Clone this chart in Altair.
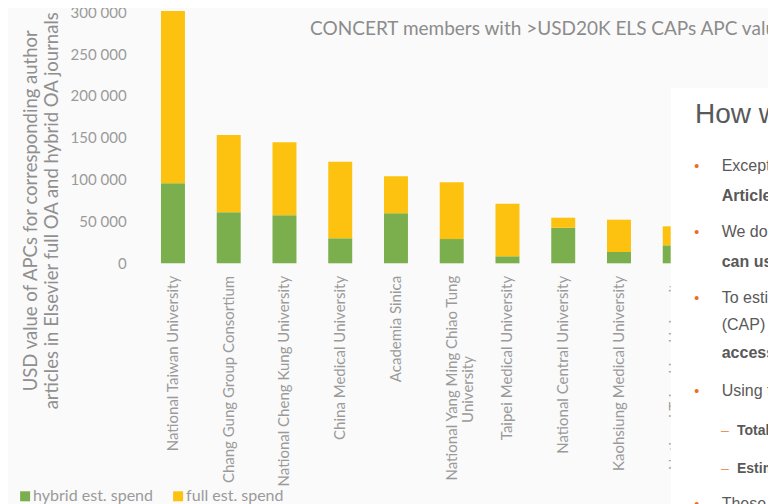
import altair as alt
import pandas as pd

NBSP = "\u00a0"
ZWSP = "\u200b"

UNIVERSITIES = [
    "National Taiwan University",
    "Chang Gung Group Consortium",
    "National Cheng Kung University",
    "China Medical University",
    "Academia Sinica",
    "National Yang Ming Chiao Tung|University" + NBSP * 21 + ZWSP,
    "Taipei Medical University",
    "National Central University",
    "Kaohsiung Medical University",
    "National Tsing Hua University",
]
SERIES = ["hybrid est. spend", "full est. spend"]
HYBRID = [95600, 61000, 57400, 29900, 59800, 29000, 8400, 42500, 13500, 21500]
FULL = [206000, 92300, 87200, 91500, 44200, 67800, 62800, 12000, 38600, 22700]
Y_TICKS = [0, 50000, 100000, 150000, 200000, 250000, 300000]

TITLE = "CONCERT members with >USD20K ELS CAPs APC value"
Y_TITLE = ["USD value of APCs for corresponding author",
           "articles in Elsevier full OA and hybrid OA journals"]

PANEL_HEADING = "How we estimate APC spend"
PANEL_LINES = [
    "Except the Open Access agreements, there is no",
    "Article Processing Charge data",
    "We do not have invoices, but we",
    "can use publication data",
    "To estimate, we use Corresponding Author Publications",
    "(CAP) data for Elsevier hybrid and full open",
    "access journals",
    "Using the APC list prices:",
    "Total cost of APCs",
    "Estimated spend",
    "These totals are estimates",
]

GREEN = "#7BAF4D"
YELLOW = "#FDC20F"
GREY_TXT = "#9a9a9a"
PANEL_TXT = "#595959"
ORANGE = "#F26B1D"

rows = []
for i, u in enumerate(UNIVERSITIES):
    rows.append({"university": u, "series": SERIES[0], "value": HYBRID[i], "ord": 0})
    rows.append({"university": u, "series": SERIES[1], "value": FULL[i], "ord": 1})
df = pd.DataFrame(rows)

bars = alt.Chart(df).mark_bar().encode(
    x=alt.X(
        "university:N",
        sort=UNIVERSITIES,
        title=None,
        scale=alt.Scale(paddingInner=0.57, paddingOuter=0.5),
        axis=alt.Axis(
            labelAngle=270,
            labelExpr="split(datum.label, '|')",
            labelFont="Lato",
            labelFontSize=15,
            labelColor=GREY_TXT,
            labelLineHeight=16,
            labelPadding=12,
            labelLimit=400,
            labelOverlap=False,
            ticks=False,
            domain=False,
        ),
    ),
    y=alt.Y(
        "value:Q",
        stack="zero",
        scale=alt.Scale(domain=[0, 300000], nice=False),
        axis=alt.Axis(
            values=Y_TICKS,
            labelExpr="replace(format(datum.value, ','), ',', ' ')",
            labelFont="Lato",
            labelFontSize=15,
            labelColor=GREY_TXT,
            labelPadding=7,
            ticks=False,
            domain=False,
            grid=False,
            title=Y_TITLE,
            titleFont="Lato",
            titleFontSize=18.5,
            titleFontWeight="normal",
            titleColor="#8f8f8f",
            titleLineHeight=21,
            titleAngle=270,
            titleAlign="center",
            titleBaseline="middle",
            titleX=-103,
            titleY=198,
        ),
    ),
    color=alt.Color(
        "series:N",
        scale=alt.Scale(domain=SERIES, range=[GREEN, YELLOW]),
        legend=alt.Legend(
            title=None,
            orient="none",
            direction="horizontal",
            legendX=-116,
            legendY=476,
            symbolType="square",
            symbolSize=100,
            symbolStrokeWidth=0,
            labelFont="Lato",
            labelFontSize=16,
            labelColor=GREY_TXT,
            labelOffset=0,
            columnPadding=17,
            padding=0,
        ),
    ),
    order=alt.Order("ord:Q", sort="ascending"),
)

one = pd.DataFrame({"k": [0]})


def txt(s, x, y, size, color, weight="normal", font="Liberation Sans", align="left"):
    return alt.Chart(one).mark_text(
        text=s, align=align, baseline="alphabetic", fontSize=size,
        color=color, fontWeight=weight, font=font,
    ).encode(x=alt.value(x), y=alt.value(y))


title_layer = txt(TITLE, 177, 22.7, 19, "#8c8c8c", font="Lato")

panel = alt.Chart(one).mark_rect(color="white").encode(
    x=alt.value(537.6), x2=alt.value(720), y=alt.value(76), y2=alt.value(520)
)

layers = [bars, title_layer, panel,
          txt(PANEL_HEADING, 561.9, 110.7, 28, PANEL_TXT)]

line_x = [588.6] * 8 + [603.9, 603.9, 588.6]
line_y = [158.7, 188.7, 224.7, 254.7, 290.7, 317.7, 345.7, 383.7, 422.7, 460.7, 496.7]
line_w = ["normal", "bold", "normal", "bold", "normal", "normal", "bold",
          "normal", "bold", "bold", "normal"]
line_s = [16, 16, 16, 16, 16, 16, 16, 16, 14, 14, 16]
for s, x, y, w, fs in zip(PANEL_LINES, line_x, line_y, line_w, line_s):
    layers.append(txt(s, x, y, fs, PANEL_TXT, weight=w))
for y in [158.7, 224.7, 290.7, 383.7, 496.7]:
    layers.append(txt("•", 563.6, y, 14, ORANGE, align="center"))
for y in [422.7, 460.7]:
    layers.append(txt("–", 591.9, y, 14, "#F0944D", align="center"))

chart = alt.layer(*layers).properties(
    width=581.5,
    height=251,
    autosize=alt.AutoSizeParams(type="none"),
    padding={"left": 125.1, "top": 4.3, "right": 53.4, "bottom": 240.7},
    background="#fafafa",
).configure_view(strokeWidth=0)

chart.save("out.html", embed_options={"renderer": "svg", "actions": False})
